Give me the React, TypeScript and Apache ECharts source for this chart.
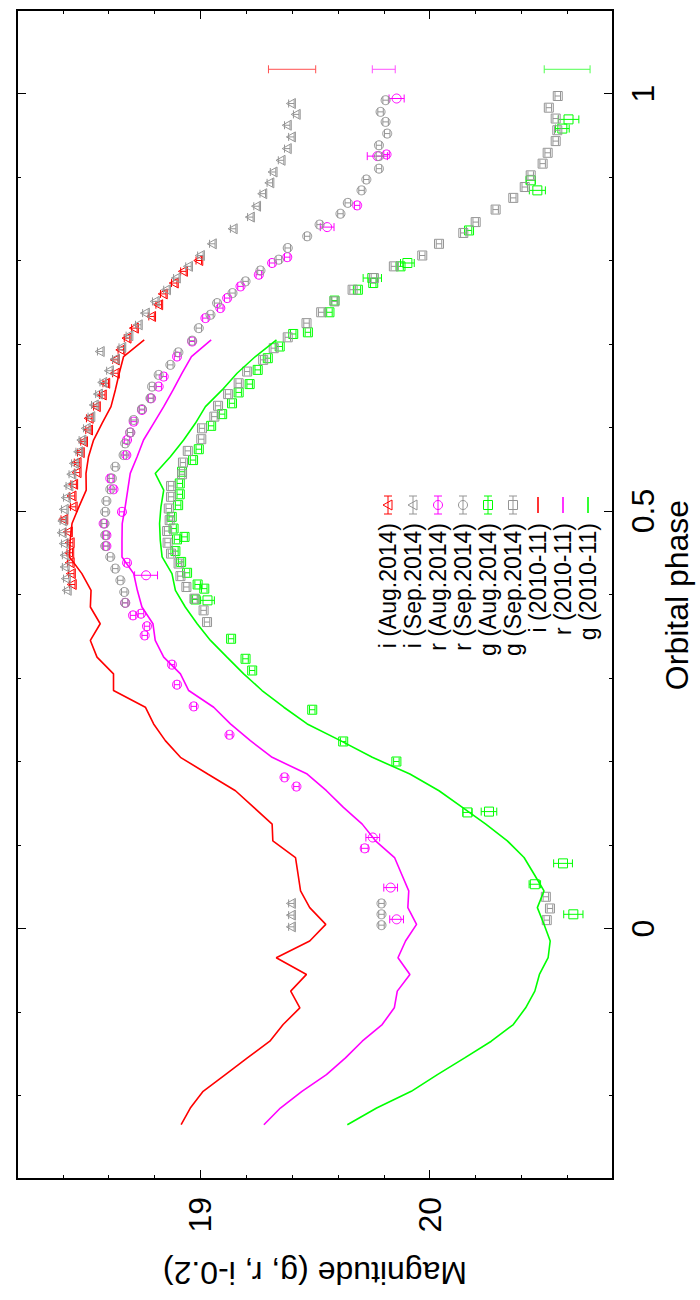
import React, { useEffect, useRef } from 'react';
import * as echarts from 'echarts';

const FONT = '"Liberation Sans", Arial, Helvetica, sans-serif';
const RED = '#ff0000';
const MAGENTA = '#ff00ff';
const GREEN = '#00ff00';
const GRAY = '#959595';

// [orbital phase, magnitude, error (optional)]
const iAug2014 = [
  [0.412, 18.441], [0.425, 18.437], [0.438, 18.432], [0.45, 18.43], [0.462, 18.432], [0.475, 18.424],
  [0.49, 18.404], [0.505, 18.445], [0.518, 18.44], [0.532, 18.447], [0.546, 18.462], [0.558, 18.462],
  [0.57, 18.476], [0.583, 18.49], [0.597, 18.512], [0.611, 18.515], [0.625, 18.546], [0.639, 18.572],
  [0.653, 18.587], [0.665, 18.629], [0.681, 18.629], [0.693, 18.653], [0.707, 18.68], [0.719, 18.712],
  [0.733, 18.787], [0.747, 18.818], [0.76, 18.838], [0.773, 18.886], [0.787, 18.926], [0.8, 18.993],
];
const iSep2014 = [
  [0.002, 19.397], [0.016, 19.397], [0.03, 19.397],
  [0.405, 18.419], [0.419, 18.415], [0.433, 18.41], [0.447, 18.41], [0.461, 18.406], [0.474, 18.397],
  [0.488, 18.4], [0.502, 18.406], [0.516, 18.415], [0.53, 18.426], [0.544, 18.439], [0.557, 18.45],
  [0.571, 18.469], [0.585, 18.483], [0.599, 18.502], [0.613, 18.522], [0.627, 18.537], [0.64, 18.555],
  [0.654, 18.574], [0.668, 18.603], [0.682, 18.629], [0.691, 18.563], [0.696, 18.657], [0.71, 18.688],
  [0.723, 18.729], [0.737, 18.76], [0.751, 18.803], [0.765, 18.852], [0.779, 18.895], [0.793, 18.948],
  [0.806, 19.0], [0.82, 19.052], [0.838, 19.143], [0.852, 19.218], [0.865, 19.245], [0.88, 19.272],
  [0.893, 19.303], [0.906, 19.317], [0.92, 19.352], [0.934, 19.379], [0.948, 19.397], [0.962, 19.379],
  [0.975, 19.418], [0.988, 19.397],
];
const rAug2014 = [
  [0.011, 19.856, 0.03], [0.049, 19.83, 0.03], [0.096, 19.717, 0.015], [0.109, 19.752, 0.03],
  [0.17, 19.419], [0.181, 19.367], [0.232, 19.127], [0.266, 18.971], [0.292, 18.898], [0.316, 18.876],
  [0.351, 18.757], [0.362, 18.767], [0.375, 18.706], [0.377, 18.741], [0.39, 18.672], [0.423, 18.763, 0.05],
  [0.438, 18.68], [0.458, 18.59], [0.471, 18.59], [0.485, 18.578], [0.499, 18.658], [0.526, 18.621],
  [0.539, 18.607], [0.567, 18.677], [0.585, 18.68], [0.594, 18.694], [0.607, 18.709], [0.621, 18.745],
  [0.635, 18.785], [0.649, 18.818], [0.661, 18.84], [0.685, 18.898], [0.703, 18.964], [0.731, 19.022],
  [0.743, 19.087], [0.755, 19.117], [0.769, 19.175], [0.783, 19.255], [0.797, 19.313], [0.804, 19.379],
  [0.84, 19.553, 0.03], [0.866, 19.684], [0.925, 19.772, 0.044], [0.927, 19.812], [0.994, 19.856, 0.033],
];
const rSep2014 = [
  [0.004, 19.79], [0.017, 19.79], [0.03, 19.79],
  [0.39, 18.672], [0.403, 18.668], [0.417, 18.651], [0.431, 18.629], [0.445, 18.607], [0.458, 18.585],
  [0.471, 18.585], [0.485, 18.582], [0.499, 18.585], [0.512, 18.59], [0.526, 18.607], [0.539, 18.614],
  [0.553, 18.629], [0.567, 18.665], [0.581, 18.672], [0.594, 18.694], [0.609, 18.709], [0.622, 18.745],
  [0.635, 18.782], [0.649, 18.789], [0.663, 18.818], [0.675, 18.869], [0.69, 18.904], [0.704, 18.964],
  [0.719, 18.993], [0.735, 19.044], [0.749, 19.073], [0.761, 19.14], [0.775, 19.197], [0.788, 19.262],
  [0.801, 19.342], [0.815, 19.381], [0.829, 19.466], [0.843, 19.52], [0.856, 19.611], [0.869, 19.643],
  [0.884, 19.703], [0.897, 19.724], [0.91, 19.779], [0.925, 19.779], [0.938, 19.779], [0.952, 19.815],
  [0.966, 19.808], [0.978, 19.786], [0.992, 19.808],
];
const gAug2014 = [
  [0.017, 20.627, 0.042], [0.053, 20.459, 0.025], [0.078, 20.582, 0.041], [0.139, 20.165, 0.02],
  [0.14, 20.259, 0.034], [0.2, 19.855], [0.224, 19.623], [0.262, 19.488], [0.309, 19.226], [0.323, 19.197],
  [0.347, 19.134], [0.393, 19.031, 0.03], [0.394, 18.978], [0.407, 19.017], [0.412, 18.988], [0.426, 18.942],
  [0.439, 18.916], [0.452, 18.891], [0.466, 18.898], [0.469, 18.931], [0.479, 18.883], [0.493, 18.875],
  [0.507, 18.903], [0.52, 18.91], [0.533, 18.91], [0.547, 18.92], [0.561, 18.968], [0.574, 18.993],
  [0.602, 19.047], [0.616, 19.095], [0.629, 19.138], [0.642, 19.167], [0.652, 19.215], [0.669, 19.25],
  [0.683, 19.294], [0.697, 19.346], [0.712, 19.405], [0.714, 19.469], [0.738, 19.563], [0.752, 19.585],
  [0.765, 19.687], [0.773, 19.754], [0.779, 19.75, 0.04], [0.793, 19.873], [0.797, 19.903, 0.03],
  [0.836, 20.172], [0.884, 20.47, 0.035], [0.896, 20.441, 0.02], [0.958, 20.579, 0.03], [0.969, 20.606, 0.045],
];
const gSep2014 = [
  [0.01, 20.511], [0.024, 20.525], [0.038, 20.507],
  [0.367, 19.029], [0.381, 19.014], [0.395, 18.974], [0.409, 18.939], [0.422, 18.913], [0.437, 18.905],
  [0.449, 18.872], [0.462, 18.857], [0.476, 18.855], [0.489, 18.866], [0.503, 18.862], [0.517, 18.872],
  [0.53, 18.872], [0.544, 18.92], [0.558, 18.924], [0.572, 18.945], [0.586, 19.004], [0.599, 19.007],
  [0.613, 19.061], [0.626, 19.077], [0.64, 19.121], [0.653, 19.167], [0.667, 19.204], [0.681, 19.274],
  [0.695, 19.32], [0.708, 19.381], [0.725, 19.463], [0.738, 19.527], [0.751, 19.585], [0.765, 19.664],
  [0.779, 19.757], [0.793, 19.844], [0.806, 19.968], [0.82, 20.041], [0.833, 20.147], [0.846, 20.201],
  [0.861, 20.288], [0.875, 20.365], [0.888, 20.415], [0.902, 20.441], [0.916, 20.493], [0.929, 20.515],
  [0.943, 20.55], [0.956, 20.557], [0.97, 20.55], [0.983, 20.52], [0.997, 20.559],
];

// 2010-11 light curves
const linePhase = [
  -0.235, -0.215, -0.195, -0.175, -0.155, -0.135, -0.115, -0.095, -0.075, -0.055, -0.035, -0.015,
  0.005, 0.025, 0.045, 0.065, 0.085, 0.105, 0.125, 0.145, 0.165, 0.185, 0.205, 0.225,
  0.245, 0.265, 0.285, 0.305, 0.325, 0.345, 0.365, 0.385, 0.405, 0.425, 0.445, 0.465,
  0.485, 0.505, 0.525, 0.545, 0.565, 0.585, 0.605, 0.625, 0.645, 0.665, 0.685, 0.705,
];
const iLine2010 = [
  18.916, 18.956, 19.012, 19.109, 19.205, 19.303, 19.361, 19.434, 19.394, 19.463, 19.331, 19.477,
  19.547, 19.477, 19.437, 19.426, 19.415, 19.316, 19.313, 19.233, 19.153, 19.032, 18.913, 18.847,
  18.796, 18.76, 18.621, 18.621, 18.549, 18.52, 18.563, 18.52, 18.523, 18.483, 18.429, 18.432,
  18.44, 18.47, 18.502, 18.501, 18.512, 18.534, 18.571, 18.61, 18.629, 18.646, 18.665, 18.755,
];
const rLine2010 = [
  19.277, 19.349, 19.443, 19.55, 19.633, 19.706, 19.793, 19.846, 19.859, 19.914, 19.862, 19.895,
  19.943, 19.905, 19.909, 19.878, 19.847, 19.764, 19.706, 19.624, 19.55, 19.466, 19.313, 19.218,
  19.131, 19.058, 18.949, 18.913, 18.84, 18.803, 18.793, 18.745, 18.725, 18.709, 18.658, 18.658,
  18.659, 18.672, 18.683, 18.694, 18.724, 18.752, 18.796, 18.84, 18.881, 18.92, 18.961, 19.047,
];
const gLine2010 = [
  19.641, 19.769, 19.92, 20.034, 20.153, 20.269, 20.365, 20.419, 20.459, 20.479, 20.517, 20.526,
  20.499, 20.47, 20.499, 20.456, 20.412, 20.339, 20.245, 20.143, 20.041, 19.914, 19.75, 19.611,
  19.466, 19.364, 19.269, 19.189, 19.116, 19.044, 18.986, 18.934, 18.891, 18.876, 18.833, 18.825,
  18.822, 18.828, 18.84, 18.803, 18.869, 18.927, 18.978, 19.022, 19.095, 19.16, 19.24, 19.332,
];

// typical error bars drawn at the top
const typicalPhase = 1.029;
const typicalMag = [19.4, 19.8, 20.6];
const typicalErr = [0.103, 0.05, 0.1];
const typicalColor = ['#ff5050', '#ff50ff', '#50ff50'];

const magMinorTicks = [18.4, 18.6, 18.8, 19.2, 19.4, 19.6, 19.8, 20.2, 20.4, 20.6];
const magMajorTicks = [19, 20];
const phaseMinorTicks = [-0.2, -0.1, 0.1, 0.2, 0.3, 0.4, 0.6, 0.7, 0.8, 0.9];
const phaseMajorTicks = [0, 0.5, 1];

const legendItems = [
  { label: 'i (Aug.2014)', color: RED, shape: 'triangle' },
  { label: 'i (Sep.2014)', color: GRAY, shape: 'triangle' },
  { label: 'r (Aug.2014)', color: MAGENTA, shape: 'circle' },
  { label: 'r (Sep.2014)', color: GRAY, shape: 'circle' },
  { label: 'g (Aug.2014)', color: GREEN, shape: 'square' },
  { label: 'g (Sep.2014)', color: GRAY, shape: 'square' },
  { label: 'i (2010-11)', color: RED, shape: 'line' },
  { label: 'r (2010-11)', color: MAGENTA, shape: 'line' },
  { label: 'g (2010-11)', color: GREEN, shape: 'line' },
];

function symbolEl(shape: string, x: number, y: number, color: string) {
  const style = { stroke: color, fill: 'none', lineWidth: 1 };
  if (shape === 'square') return { type: 'rect', shape: { x: x - 4.5, y: y - 4.5, width: 9, height: 9 }, style };
  if (shape === 'circle') return { type: 'circle', shape: { cx: x, cy: y, r: 4.5 }, style };
  return { type: 'polygon', shape: { points: [[x - 5, y], [x + 4, y - 5], [x + 4, y + 5]] }, style };
}

function pointRenderer(shape: string | null, color: string) {
  return (_params: any, api: any) => {
    const m = api.value(0);
    const p = api.value(1);
    const e = api.value(2);
    const c = api.coord([m, p]);
    const lo = api.coord([m - e, p]);
    const hi = api.coord([m + e, p]);
    const cap = 4;
    const st = { stroke: color, lineWidth: 1, fill: 'none' };
    const children: any[] = [
      { type: 'line', shape: { x1: lo[0], y1: c[1], x2: hi[0], y2: c[1] }, style: st },
      { type: 'line', shape: { x1: lo[0], y1: c[1] - cap, x2: lo[0], y2: c[1] + cap }, style: st },
      { type: 'line', shape: { x1: hi[0], y1: c[1] - cap, x2: hi[0], y2: c[1] + cap }, style: st },
    ];
    if (shape) children.push(symbolEl(shape, c[0], c[1], color));
    return { type: 'group', children };
  };
}

function toData(arr: number[][], defErr: number) {
  return arr.map((d) => [d[1], d[0], d.length > 2 ? d[2] : defErr]);
}

function pointSeries(name: string, arr: number[][], defErr: number, shape: string, color: string) {
  return {
    name,
    type: 'custom',
    coordinateSystem: 'cartesian2d',
    xAxisIndex: 0,
    yAxisIndex: 0,
    encode: { x: 0, y: 1 },
    clip: true,
    renderItem: pointRenderer(shape, color),
    data: toData(arr, defErr),
  };
}

function lineSeries(name: string, mags: number[], color: string) {
  return {
    name,
    type: 'line',
    xAxisIndex: 0,
    yAxisIndex: 0,
    showSymbol: false,
    symbol: 'none',
    lineStyle: { color, width: 1.6 },
    data: mags.map((m, k) => [m, linePhase[k]]),
  };
}

const hiddenLine = { show: false, onZero: false };
const xBase = { type: 'value', min: 18.2, max: 20.8, interval: 0.2, splitLine: { show: false }, axisLine: hiddenLine };
const yBase = { type: 'value', min: -0.3, max: 1.1, interval: 0.1, splitLine: { show: false }, axisLine: hiddenLine };
const tick = (vals: number[], len: number) => ({
  show: true, inside: true, length: len, customValues: vals, lineStyle: { color: '#000', width: 1 },
});
const noLabel = { show: false };
const fmt = (v: number) => String(Math.round(v * 10) / 10);

function buildGraphics() {
  const els: any[] = [];
  legendItems.forEach((it, k) => {
    const cx = 388 + 25 * k;
    els.push({
      type: 'text', x: cx, y: 523, rotation: Math.PI / 2,
      style: { text: it.label, fontSize: 23, fontFamily: FONT, fill: '#000', align: 'right', verticalAlign: 'middle' },
    });
    if (it.shape === 'line') {
      els.push({ type: 'line', shape: { x1: cx, y1: 497, x2: cx, y2: 513 }, style: { stroke: it.color, lineWidth: 1.6 } });
    } else {
      const st = { stroke: it.color, lineWidth: 1 };
      els.push({ type: 'line', shape: { x1: cx, y1: 496, x2: cx, y2: 514 }, style: st });
      els.push({ type: 'line', shape: { x1: cx - 4, y1: 496, x2: cx + 4, y2: 496 }, style: st });
      els.push({ type: 'line', shape: { x1: cx - 4, y1: 514, x2: cx + 4, y2: 514 }, style: st });
      els.push(symbolEl(it.shape, cx, 505, it.color));
    }
  });
  els.push({
    type: 'text', x: 677, y: 595, rotation: Math.PI / 2,
    style: { text: 'Orbital phase', fontSize: 32, fontFamily: FONT, fill: '#000', align: 'center', verticalAlign: 'middle' },
  });
  els.push({
    type: 'text', x: 315, y: 1273, rotation: Math.PI,
    style: { text: 'Magnitude (g, r, i-0.2)', fontSize: 32, fontFamily: FONT, fill: '#000', align: 'center', verticalAlign: 'middle' },
  });
  return els;
}

export default function App() {
  const ref = useRef<HTMLDivElement>(null);
  useEffect(() => {
    if (!ref.current) return;
    const chart = echarts.init(ref.current, null, { renderer: 'svg' });
    const option: any = {
      animation: false,
      backgroundColor: '#ffffff',
      grid: {
        left: 17, right: 87, top: 10, bottom: 121,
        show: true, borderColor: '#000', borderWidth: 2, backgroundColor: 'transparent',
        containLabel: false, outerBoundsMode: 'none',
      },
      xAxis: [
        {
          ...xBase, position: 'bottom', axisTick: tick(magMinorTicks, 4),
          axisLabel: {
            show: true, customValues: magMajorTicks, rotate: 90, margin: 18, fontSize: 32,
            fontFamily: FONT, color: '#000', formatter: fmt,
          },
        },
        { ...xBase, position: 'bottom', axisTick: tick(magMajorTicks, 9), axisLabel: noLabel },
        { ...xBase, position: 'top', axisTick: tick(magMinorTicks, 4), axisLabel: noLabel },
        { ...xBase, position: 'top', axisTick: tick(magMajorTicks, 9), axisLabel: noLabel },
      ],
      yAxis: [
        {
          ...yBase, position: 'right', axisTick: tick(phaseMinorTicks, 4),
          axisLabel: {
            show: true, customValues: phaseMajorTicks, rotate: 90, margin: 14, fontSize: 32,
            fontFamily: FONT, color: '#000', formatter: fmt,
          },
        },
        { ...yBase, position: 'right', axisTick: tick(phaseMajorTicks, 9), axisLabel: noLabel },
        { ...yBase, position: 'left', axisTick: tick(phaseMinorTicks, 4), axisLabel: noLabel },
        { ...yBase, position: 'left', axisTick: tick(phaseMajorTicks, 9), axisLabel: noLabel },
      ],
      series: [
        pointSeries('i (Aug.2014)', iAug2014, 0.012, 'triangle', RED),
        pointSeries('i (Sep.2014)', iSep2014, 0.012, 'triangle', GRAY),
        pointSeries('r (Aug.2014)', rAug2014, 0.012, 'circle', MAGENTA),
        pointSeries('r (Sep.2014)', rSep2014, 0.012, 'circle', GRAY),
        pointSeries('g (Aug.2014)', gAug2014, 0.012, 'square', GREEN),
        pointSeries('g (Sep.2014)', gSep2014, 0.012, 'square', GRAY),
        lineSeries('i (2010-11)', iLine2010, RED),
        lineSeries('r (2010-11)', rLine2010, MAGENTA),
        lineSeries('g (2010-11)', gLine2010, GREEN),
        ...typicalMag.map((m, k) => ({
          name: 'typical error ' + k,
          type: 'custom',
          coordinateSystem: 'cartesian2d',
          xAxisIndex: 0,
          yAxisIndex: 0,
          encode: { x: 0, y: 1 },
          renderItem: pointRenderer(null, typicalColor[k]),
          data: [[m, typicalPhase, typicalErr[k]]],
        })),
      ],
      graphic: buildGraphics(),
    };
    chart.setOption(option);
    return () => chart.dispose();
  }, []);
  return (
    <div
      ref={ref}
      style={{ position: 'absolute', left: 0, top: 0, width: 700, height: 1300, background: '#fff' }}
    />
  );
}
